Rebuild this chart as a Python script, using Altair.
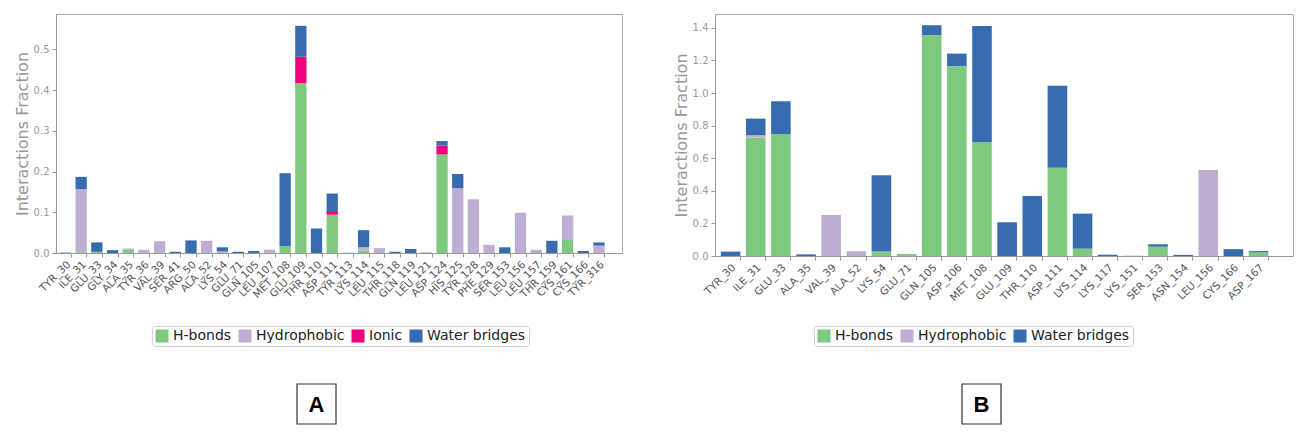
import altair as alt
import pandas as pd

TYPES = ["H-bonds", "Hydrophobic", "Ionic", "Water bridges"]
COLORS = ["#7fc97f", "#beaed4", "#f0027f", "#386cb0"]

# ---------------- Panel A ----------------
a_residues = ["TYR_30", "ILE_31", "GLU_33", "GLY_34", "ALA_35", "TYR_36", "VAL_39",
              "SER_41", "ARG_50", "ALA_52", "LYS_54", "GLU_71", "GLN_105", "LEU_107",
              "MET_108", "GLU_109", "THR_110", "ASP_111", "TYR_113", "LYS_114",
              "LEU_115", "THR_118", "GLN_119", "LEU_121", "ASP_124", "HIS_125",
              "TYR_128", "PHE_129", "SER_153", "LEU_156", "LEU_157", "THR_159",
              "CYS_161", "CYS_166", "TYR_316"]
a_hbonds = [0, 0.002, 0.003, 0, 0.009, 0, 0, 0, 0, 0, 0, 0, 0, 0, 0.017, 0.417, 0,
            0.094, 0, 0.006, 0, 0, 0, 0, 0.242, 0, 0, 0, 0, 0, 0, 0, 0.032, 0, 0]
a_hydrophobic = [0, 0.155, 0, 0, 0.002, 0.008, 0.029, 0, 0, 0.030, 0.004, 0, 0,
                 0.008, 0, 0, 0, 0, 0.001, 0.008, 0.012, 0, 0, 0.002, 0, 0.159,
                 0.132, 0.020, 0, 0.099, 0.008, 0, 0.060, 0, 0.018]
a_ionic = [0, 0, 0, 0, 0, 0, 0, 0, 0, 0, 0, 0, 0, 0, 0, 0.065, 0, 0.009, 0, 0,
           0, 0, 0, 0, 0.022, 0, 0, 0, 0, 0, 0, 0, 0, 0, 0]
a_water = [0.001, 0.030, 0.023, 0.007, 0, 0, 0, 0.003, 0.031, 0, 0.010, 0.003,
           0.005, 0, 0.179, 0.076, 0.060, 0.043, 0, 0.042, 0, 0.003, 0.010, 0,
           0.011, 0.035, 0, 0, 0.014, 0, 0, 0.030, 0, 0.005, 0.008]
a_ticks = [0, 0.1, 0.2, 0.3, 0.4, 0.5]

# ---------------- Panel B ----------------
b_residues = ["TYR_30", "ILE_31", "GLU_33", "ALA_35", "VAL_39", "ALA_52", "LYS_54",
              "GLU_71", "GLN_105", "ASP_106", "MET_108", "GLU_109", "THR_110",
              "ASP_111", "LYS_114", "LYS_117", "LYS_151", "SER_153", "ASN_154",
              "LEU_156", "CYS_166", "ASP_167"]
b_hbonds = [0, 0.727, 0.749, 0, 0, 0, 0.027, 0.012, 1.355, 1.165, 0.698, 0, 0,
            0.542, 0.045, 0, 0, 0.057, 0, 0, 0, 0.022]
b_hydrophobic = [0, 0.014, 0, 0, 0.252, 0.029, 0, 0, 0, 0, 0, 0, 0, 0, 0, 0, 0,
                 0, 0, 0.528, 0, 0]
b_water = [0.027, 0.102, 0.201, 0.010, 0, 0, 0.468, 0, 0.061, 0.077, 0.714, 0.207,
           0.368, 0.502, 0.215, 0.008, 0.001, 0.015, 0.007, 0, 0.042, 0.008]
b_ticks = [0, 0.2, 0.4, 0.6, 0.8, 1.0, 1.2, 1.4]


def long_table(residues, series):
    rows = []
    for k, (name, vals) in enumerate(series):
        for r, v in zip(residues, vals):
            rows.append({"residue": r, "type": name, "value": v, "ord": k})
    return pd.DataFrame(rows)


def bar_panel(residues, series, ticks, ymax, width, height, p_inner, p_outer, align,
              legend_x, legend_y, letter, box_x, box_y):
    df = long_table(residues, series)
    types = [s[0] for s in series]
    colors = [COLORS[TYPES.index(t)] for t in types]
    bars = alt.Chart(df).mark_bar().encode(
        x=alt.X("residue:N", sort=residues,
                scale=alt.Scale(paddingInner=p_inner, paddingOuter=p_outer, align=align),
                axis=alt.Axis(title=None, labelAngle=-45, labelAlign="right",
                              labelBaseline="top", bandPosition=1, labelFontSize=10.5,
                              labelColor="#555", tickColor="#999", domainColor="#999",
                              tickSize=4, labelPadding=2, labelOverlap=False)),
        y=alt.Y("value:Q", stack="zero",
                scale=alt.Scale(domain=[0, ymax], nice=False),
                axis=alt.Axis(title="Interactions Fraction", values=ticks, format=".1f",
                              grid=False, labelFontSize=10, labelColor="#999",
                              titleFontSize=16, titleFontWeight="normal",
                              titleColor="#999", tickColor="#999", domainColor="#999",
                              tickSize=4, labelPadding=3, titlePadding=3)),
        color=alt.Color("type:N", scale=alt.Scale(domain=types, range=colors),
                        legend=alt.Legend(title=None, orient="none", legendX=legend_x,
                                          legendY=legend_y, direction="horizontal",
                                          symbolType="square", symbolSize=170,
                                          symbolStrokeWidth=0, labelFontSize=14,
                                          labelColor="#222", labelOffset=4,
                                          columnPadding=6, padding=3,
                                          strokeColor="#cfcfcf", cornerRadius=3)),
        order=alt.Order("ord:Q"),
    )
    label_df = pd.DataFrame({"letter": [letter]})
    box = alt.Chart(label_df).mark_rect(fill="white", stroke="#333", strokeWidth=1.2).encode(
        x=alt.value(box_x), x2=alt.value(box_x + 39),
        y=alt.value(box_y), y2=alt.value(box_y + 40))
    txt = alt.Chart(label_df).mark_text(
        font="Liberation Sans", fontSize=22, fontWeight="bold", color="black",
        baseline="middle", align="center"
    ).encode(text="letter:N", x=alt.value(box_x + 19.5), y=alt.value(box_y + 21))
    return alt.layer(bars, box, txt).properties(
        width=width, height=height,
        view=alt.ViewBackground(stroke="#aaa", strokeWidth=1))


panel_a = bar_panel(a_residues,
                    [("H-bonds", a_hbonds), ("Hydrophobic", a_hydrophobic),
                     ("Ionic", a_ionic), ("Water bridges", a_water)],
                    a_ticks, 0.587, 566, 239, 0.28, 0.676, 0.18, 96, 312,
                    "A", 241, 370)
panel_b = bar_panel(b_residues,
                    [("H-bonds", b_hbonds), ("Hydrophobic", b_hydrophobic),
                     ("Water bridges", b_water)],
                    b_ticks, 1.485, 578, 242, 0.22, 0.605, 0.19, 99, 312,
                    "B", 247, 370)

chart = alt.hconcat(panel_a, panel_b, spacing=49).resolve_scale(
    color="independent"
).properties(
    padding={"left": 5, "top": 5, "right": 5, "bottom": 5}
).configure(font="DejaVu Sans")

chart.save("out.html", embed_options={"renderer": "svg", "actions": False})
